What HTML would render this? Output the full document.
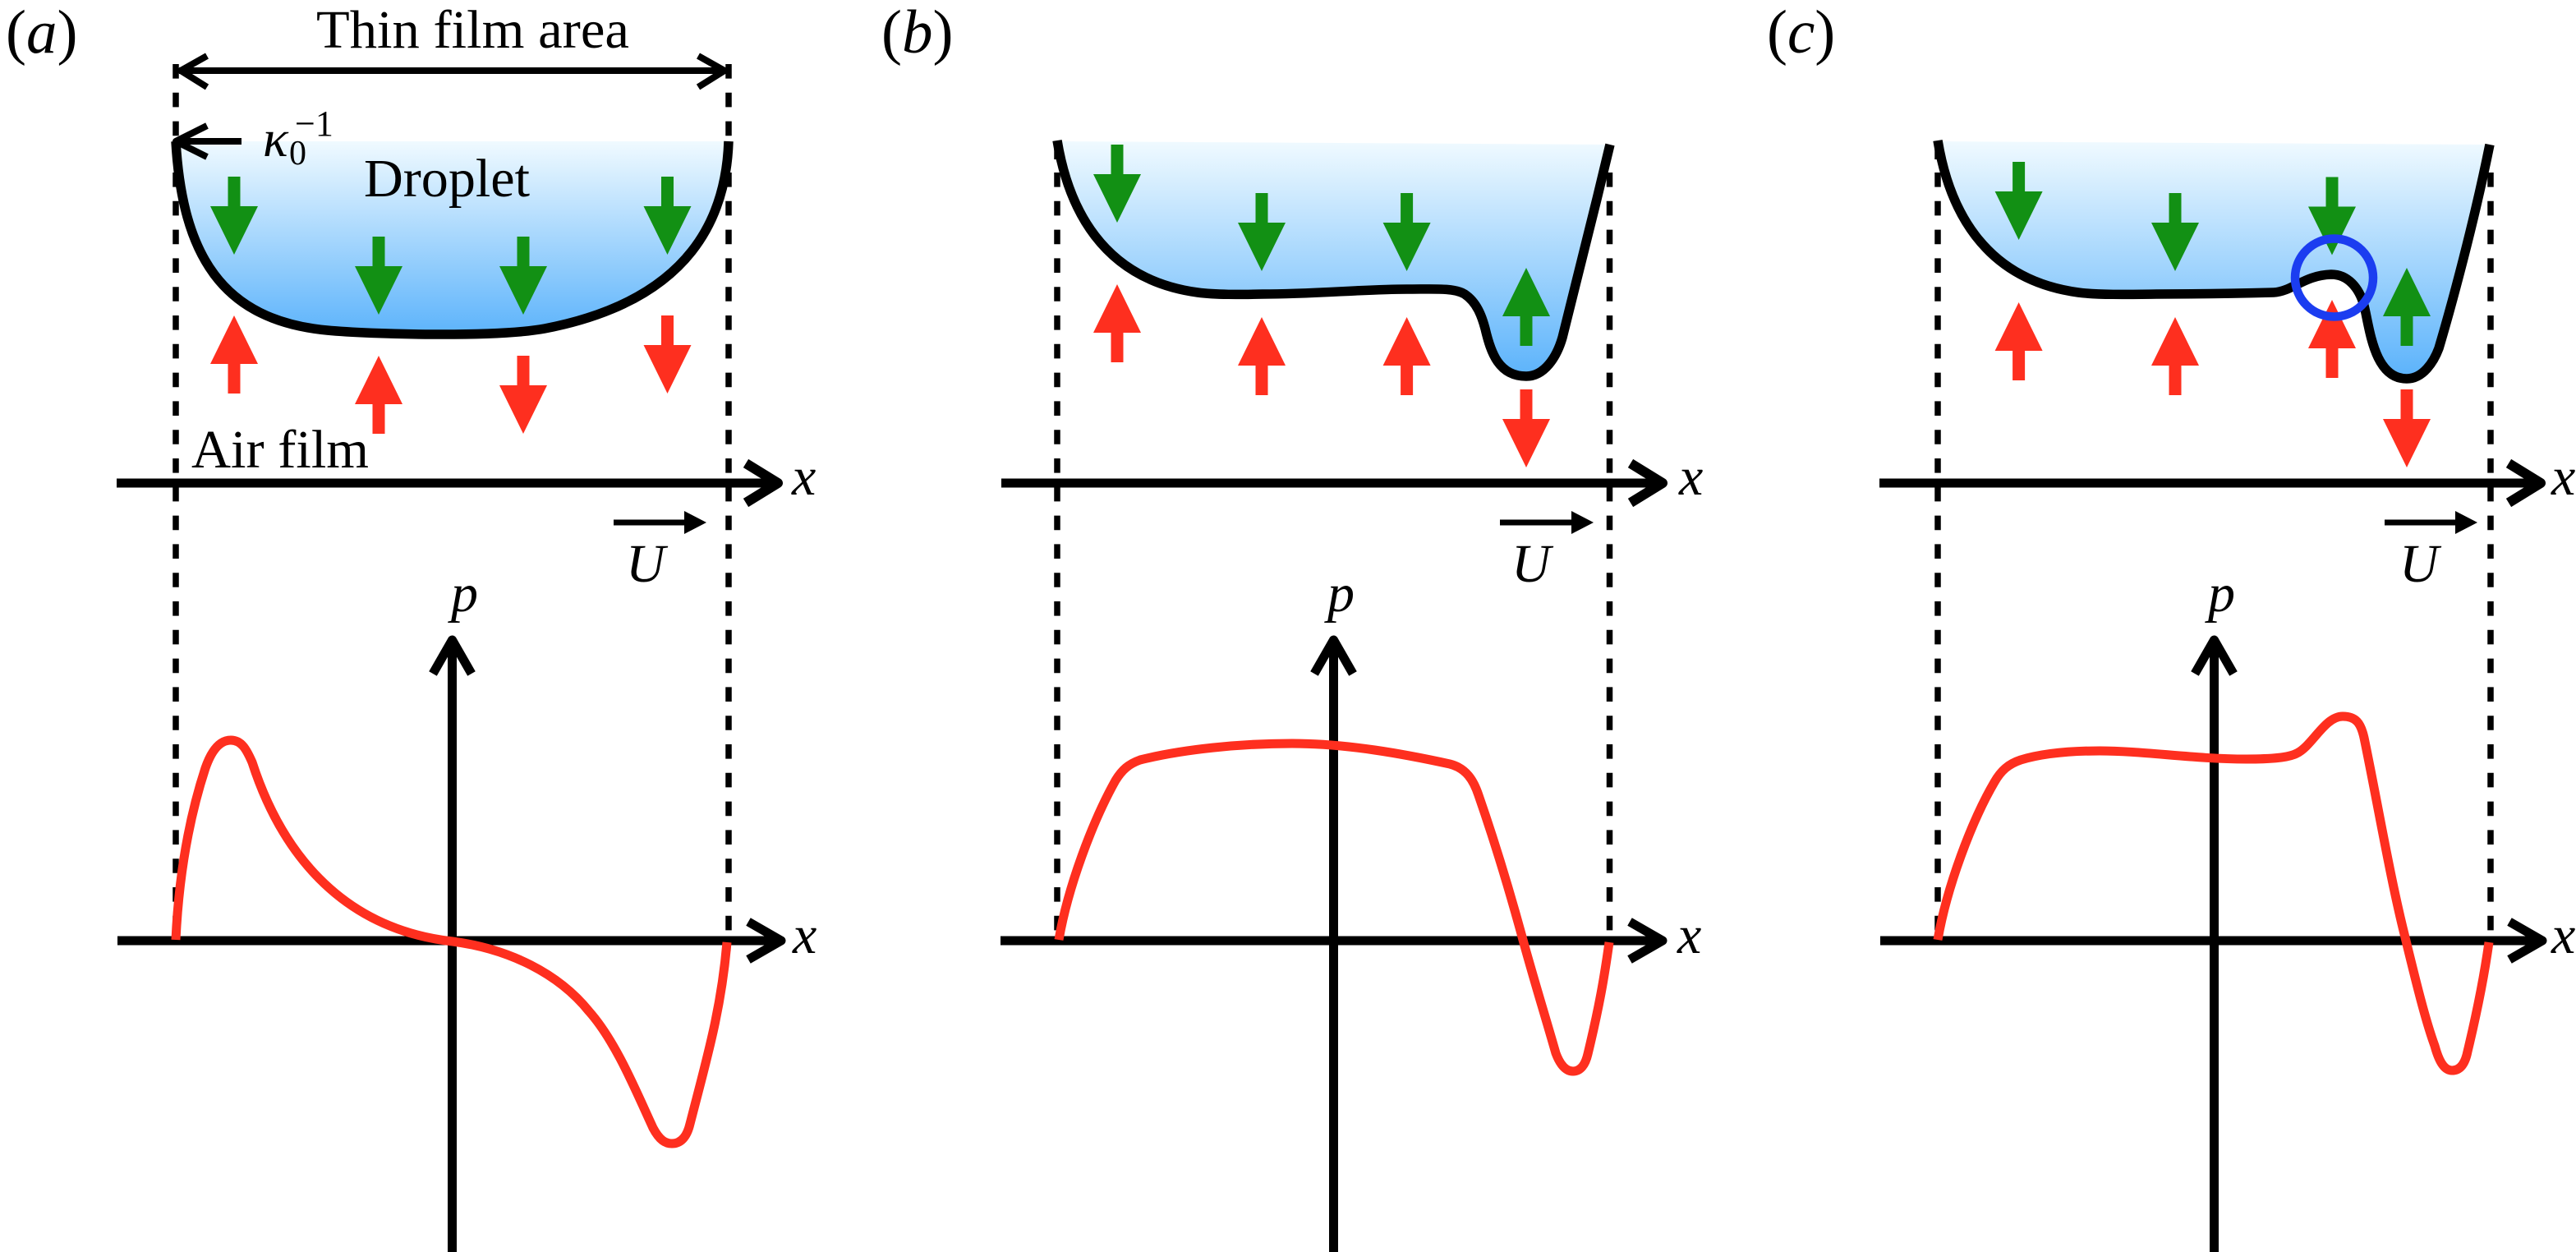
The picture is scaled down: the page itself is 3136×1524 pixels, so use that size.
<!DOCTYPE html>
<html>
<head>
<meta charset="utf-8">
<title>Droplet on air film diagram</title>
<style>
html,body{margin:0;padding:0;background:#fff;}
svg{display:block;}
text{font-family:"Liberation Serif",serif;fill:#000;}
.i{font-style:italic;}
</style>
</head>
<body>
<svg width="3136" height="1524" viewBox="0 0 3136 1524" xmlns="http://www.w3.org/2000/svg">
<defs>
<linearGradient id="ga" gradientUnits="userSpaceOnUse" x1="0" y1="172" x2="0" y2="408"><stop offset="0" stop-color="#f0faff"/><stop offset="1" stop-color="#5cb3fb"/></linearGradient>
<linearGradient id="gb" gradientUnits="userSpaceOnUse" x1="0" y1="172" x2="0" y2="458"><stop offset="0" stop-color="#f0faff"/><stop offset="1" stop-color="#5cb3fb"/></linearGradient>
<path id="d" d="M-7.5,0 L7.5,0 L7.5,36 L29,36 L0,95 L-29,36 L-7.5,36 Z"/>
</defs>

<!-- Dashed guide lines -->
<g stroke="#000" stroke-width="7.5" fill="none">
<g stroke-dasharray="17.6 17.2">
<line x1="214" y1="78" x2="214" y2="172"/><line x1="887" y1="78" x2="887" y2="172"/>
<line x1="214" y1="210" x2="214" y2="1133"/><line x1="887" y1="210" x2="887" y2="1133"/>
<line x1="1287" y1="210" x2="1287" y2="1133"/><line x1="1959.5" y1="210" x2="1959.5" y2="1133"/>
<line x1="2359" y1="210" x2="2359" y2="1133"/><line x1="3032" y1="210" x2="3032" y2="1133"/>
</g>
<line x1="1287" y1="172" x2="1287" y2="194"/>
<line x1="2359" y1="172" x2="2359" y2="194"/>
</g>

<!-- Droplets -->
<path fill="url(#ga)" stroke="none" d="M214,172 C222,310 270,390 398,402 C450,407 603,411 663,400 C845,365 884,260 887,172 Z"/>
<path fill="url(#gb)" stroke="none" d="M1287,172 C1300,250 1340,340 1458,356 C1480,359 1510,358.5 1537,358 C1600,358 1660,352 1713,352 C1745,352 1770,350 1783,358 C1798,368 1804,385 1808,400 C1815,430 1825,458 1858,458 C1880,458 1895,435 1902,411 C1915,360 1940,260 1960,176 Z"/>
<path fill="url(#gb)" stroke="none" d="M2359,172 C2372,250 2412,340 2530,356 C2552,359 2590,358.5 2625,358 C2680,358 2730,357 2768,356 C2790,355 2805,335 2838,334 C2858,334 2872,350 2878,372 C2885,400 2890,461 2930,461 C2950,461 2963,440 2969,424 C2985,370 3012,270 3031,176 Z"/>

<!-- Green arrows -->
<g fill="#129014">
<use href="#d" transform="translate(285,215)"/>
<use href="#d" transform="translate(461,288)"/>
<use href="#d" transform="translate(637,288)"/>
<use href="#d" transform="translate(812.5,215)"/>
<use href="#d" transform="translate(1360,176)"/>
<use href="#d" transform="translate(1536,235)"/>
<use href="#d" transform="translate(1712.6,235)"/>
<use href="#d" transform="translate(1858,421) scale(1,-1)"/>
<use href="#d" transform="translate(2457.6,197)"/>
<use href="#d" transform="translate(2648,235)"/>
<use href="#d" transform="translate(2839,215.5)"/>
<use href="#d" transform="translate(2930,421) scale(1,-1)"/>
</g>

<!-- Red arrows -->
<g fill="#fe2f1f">
<use href="#d" transform="translate(285,479) scale(1,-1)"/>
<use href="#d" transform="translate(461,528) scale(1,-1)"/>
<use href="#d" transform="translate(637,433)"/>
<use href="#d" transform="translate(812.5,384)"/>
<use href="#d" transform="translate(1360,441) scale(1,-1)"/>
<use href="#d" transform="translate(1536,481) scale(1,-1)"/>
<use href="#d" transform="translate(1712.6,481) scale(1,-1)"/>
<use href="#d" transform="translate(1858,474)"/>
<use href="#d" transform="translate(2457.6,463) scale(1,-1)"/>
<use href="#d" transform="translate(2648,481) scale(1,-1)"/>
<use href="#d" transform="translate(2839,460) scale(1,-1)"/>
<use href="#d" transform="translate(2930,474)"/>
</g>

<!-- Droplet outlines -->
<g fill="none" stroke="#000" stroke-width="11.5">
<path d="M214,172 C222,310 270,390 398,402 C450,407 603,411 663,400 C845,365 884,260 887,172"/>
<path d="M1287,171 C1300,250 1340,340 1458,356 C1480,359 1510,358.5 1537,358 C1600,358 1660,352 1713,352 C1745,352 1770,350 1783,358 C1798,368 1804,385 1808,400 C1815,430 1825,458 1858,458 C1880,458 1895,435 1902,411 C1915,360 1940,260 1960,176"/>
<path d="M2359,171 C2372,250 2412,340 2530,356 C2552,359 2590,358.5 2625,358 C2680,358 2730,357 2768,356 C2790,355 2805,335 2838,334 C2858,334 2872,350 2878,372 C2885,400 2890,461 2930,461 C2950,461 2963,440 2969,424 C2985,370 3012,270 3031,176"/>
</g>

<!-- Blue circle -->
<circle cx="2841.5" cy="338" r="47.5" fill="none" stroke="#1b3df0" stroke-width="10.5"/>

<!-- Thin film double arrow and kappa arrow -->
<g fill="none" stroke="#000" stroke-linejoin="round">
<line x1="218" y1="86" x2="884" y2="86" stroke-width="8"/>
<path d="M252,68 L220,86 L252,106" stroke-width="8"/>
<path d="M850,68 L882,86 L850,106" stroke-width="8"/>
<line x1="214" y1="172" x2="294" y2="172" stroke-width="8"/>
<path d="M252,153 L214,172 L252,191" stroke-width="8"/>
</g>

<!-- Upper x axes -->
<g fill="none" stroke="#000" stroke-linejoin="round">
<line x1="142" y1="588" x2="945" y2="588" stroke-width="11"/>
<path d="M908,564 L947,588 L908,612" stroke-width="12"/>
<line x1="1219" y1="588" x2="2022" y2="588" stroke-width="11"/>
<path d="M1985,564 L2024,588 L1985,612" stroke-width="12"/>
<line x1="2288" y1="588" x2="3091" y2="588" stroke-width="11"/>
<path d="M3054,564 L3093,588 L3054,612" stroke-width="12"/>
</g>

<!-- U arrows -->
<g>
<rect x="747" y="632.5" width="90" height="7"/><polygon points="833,622 860,636 833,650"/>
<rect x="1826" y="632.5" width="90" height="7"/><polygon points="1913,622 1940,636 1913,650"/>
<rect x="2903" y="632.5" width="90" height="7"/><polygon points="2989,622 3016,636 2989,650"/>
</g>

<!-- Lower axes -->
<g fill="none" stroke="#000" stroke-linejoin="round">
<line x1="143" y1="1145" x2="950" y2="1145" stroke-width="11"/>
<path d="M911,1122 L951,1145 L911,1168" stroke-width="11"/>
<line x1="550.5" y1="780" x2="550.5" y2="1524" stroke-width="11"/>
<path d="M527,820 L550.5,779 L574,820" stroke-width="11"/>

<line x1="1218" y1="1145" x2="2023" y2="1145" stroke-width="11"/>
<path d="M1984,1122 L2024,1145 L1984,1168" stroke-width="11"/>
<line x1="1623.5" y1="780" x2="1623.5" y2="1524" stroke-width="11"/>
<path d="M1600,820 L1623.5,779 L1647,820" stroke-width="11"/>

<line x1="2289" y1="1145" x2="3094" y2="1145" stroke-width="11"/>
<path d="M3055,1122 L3095,1145 L3055,1168" stroke-width="11"/>
<line x1="2695.5" y1="780" x2="2695.5" y2="1524" stroke-width="11"/>
<path d="M2672,820 L2695.5,779 L2719,820" stroke-width="11"/>
</g>

<!-- Pressure curves -->
<g fill="none" stroke="#fe2f1f" stroke-width="11">
<path d="M214,1144 C218,1060 232,990 250,935 C258,912 268,901 281,901 C294,901 300,912 307,928 C340,1030 410,1130 551,1146 C620,1155 680,1185 717,1231 C750,1268 775,1330 795,1373 C803,1388 810,1392 818,1392 C828,1392 836,1385 840,1368 C860,1290 878,1230 885,1147"/>
<path d="M1289,1144 C1300,1080 1330,1000 1358,950 C1366,937 1374,930 1388,925 C1440,912 1510,905 1573,905 C1640,905 1710,918 1765,930 C1785,935 1794,950 1800,968 C1825,1040 1842,1100 1854,1144 C1868,1195 1882,1240 1894,1282 C1900,1298 1907,1304 1915,1304 C1924,1304 1930,1296 1933,1283 C1947,1225 1953,1190 1959,1147"/>
<path d="M2359,1144 C2370,1080 2400,1000 2428,952 C2436,938 2445,930 2460,925 C2490,916 2525,914 2556,914 C2610,914 2670,924 2735,924 C2760,924 2785,923 2796,917 C2815,908 2830,872 2852,872 C2868,872 2874,880 2878,898 C2895,980 2910,1070 2928,1141 C2940,1190 2952,1240 2964,1273 C2970,1295 2977,1303 2985,1303 C2995,1303 3001,1295 3004,1280 C3016,1230 3024,1190 3030,1147"/>
</g>

<!-- Labels -->
<g font-size="75">
<text x="7" y="64">(<tspan class="i">a</tspan>)</text>
<text x="1073" y="64">(<tspan class="i">b</tspan>)</text>
<text x="2151" y="64">(<tspan class="i">c</tspan>)</text>
</g>
<g font-size="66">
<text x="385" y="58" textLength="381" lengthAdjust="spacingAndGlyphs">Thin film area</text>
<text x="443" y="239" textLength="202" lengthAdjust="spacingAndGlyphs">Droplet</text>
<text x="233" y="569" textLength="216" lengthAdjust="spacingAndGlyphs">Air film</text>
</g>
<text class="i" x="320" y="190" font-size="64">κ</text>
<text x="352" y="200" font-size="42">0</text>
<text x="359" y="165" font-size="44">−1</text>
<g font-size="66" class="i">
<text class="i" x="964" y="602">x</text>
<text class="i" x="2044" y="602">x</text>
<text class="i" x="3106" y="602">x</text>
<text class="i" x="965" y="1160">x</text>
<text class="i" x="2042" y="1160">x</text>
<text class="i" x="3106" y="1160">x</text>
<text class="i" x="762" y="708">U</text>
<text class="i" x="1840" y="708">U</text>
<text class="i" x="2921" y="708">U</text>
<text class="i" x="549" y="744">p</text>
<text class="i" x="1616" y="744">p</text>
<text class="i" x="2688" y="744">p</text>
</g>
</svg>
</body>
</html>
